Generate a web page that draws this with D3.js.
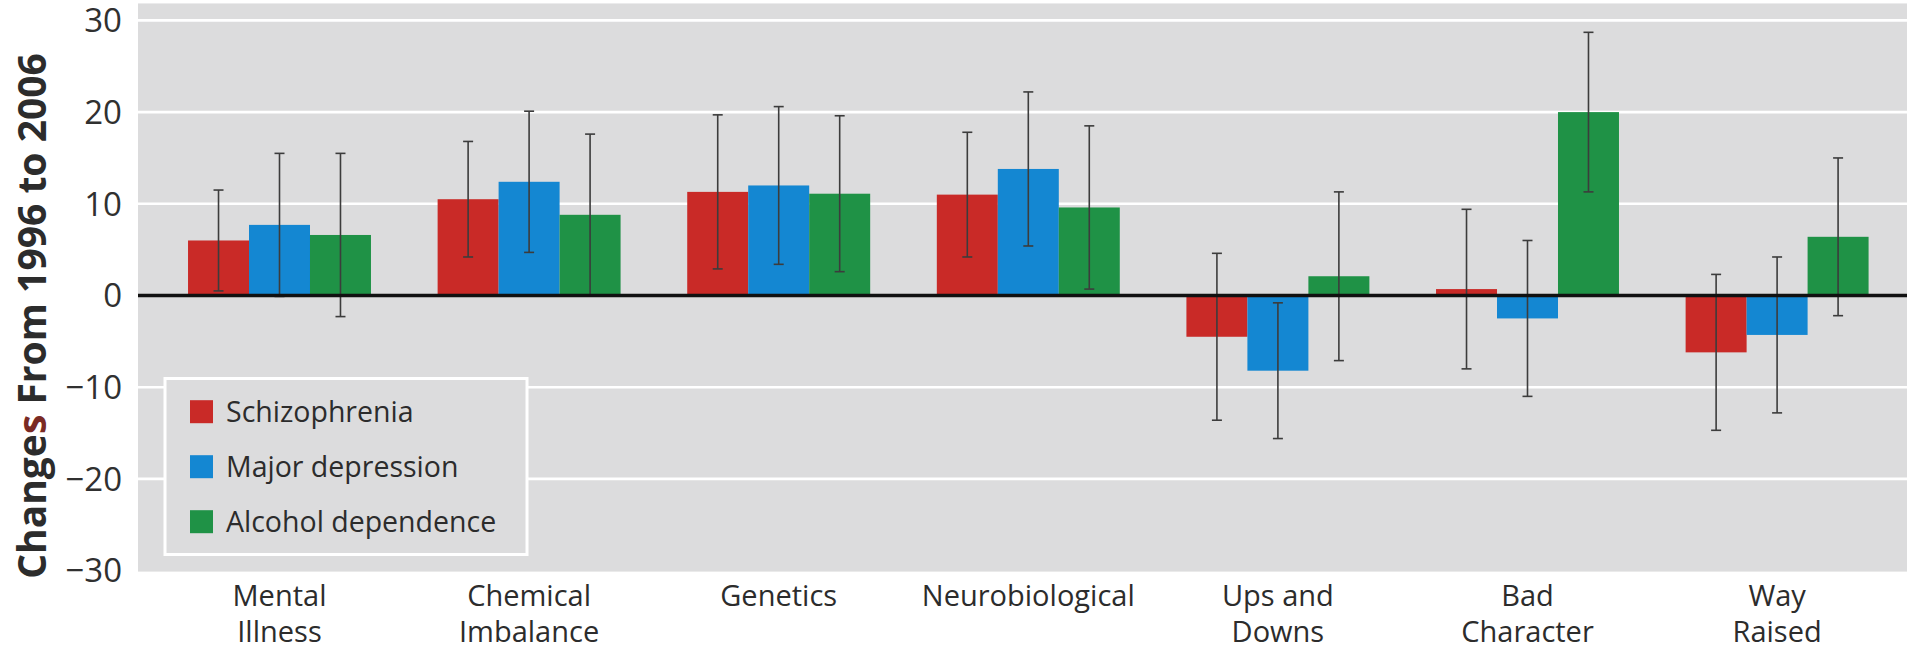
<!DOCTYPE html>
<html>
<head>
<meta charset="utf-8">
<script src="https://cdn.jsdelivr.net/npm/d3@7"></script>
<style>
  html, body { margin: 0; padding: 0; background: #ffffff; }
  svg { display: block; font-family: "Open Sans", "Noto Sans", sans-serif; }
</style>
</head>
<body>
<svg id="chart" width="1907" height="650"></svg>
<script>
// Attribution categories (multi-line labels)
const categories = [
  ["Mental", "Illness"],
  ["Chemical", "Imbalance"],
  ["Genetics"],
  ["Neurobiological"],
  ["Ups and", "Downs"],
  ["Bad", "Character"],
  ["Way", "Raised"]
];

const seriesNames = ["Schizophrenia", "Major depression", "Alcohol dependence"];
const seriesColors = ["#c92a27", "#1487d2", "#1f9246"];

// Change in endorsement, 1996 to 2006 (percentage points) and error half-widths
const schizophrenia    = [6.0, 10.5, 11.3, 11.0, -4.5,  0.7, -6.2];
const schizophreniaErr = [5.5,  6.3,  8.4,  6.8,  9.1,  8.7,  8.5];
const depression       = [7.7, 12.4, 12.0, 13.8, -8.2, -2.5, -4.3];
const depressionErr    = [7.8,  7.7,  8.6,  8.4,  7.4,  8.5,  8.5];
const alcohol          = [6.6,  8.8, 11.1,  9.6,  2.1, 20.0,  6.4];
const alcoholErr       = [8.9,  8.8,  8.5,  8.9,  9.2,  8.7,  8.6];

const yTicks = [-30, -20, -10, 0, 10, 20, 30];
const yTitle = "Changes From 1996 to 2006";

const values = [schizophrenia, depression, alcohol];
const errors = [schizophreniaErr, depressionErr, alcoholErr];

const svg = d3.select("#chart");
const W = 1907;

const plotLeft = 138, plotRight = W;
const y = d3.scaleLinear().domain([-30, 30]).range([570.6, 20.4]);
const yTopValue = 31.85;

const catKeys = categories.map(c => c.join(" "));
const x = d3.scaleBand()
  .domain(catKeys)
  .range([154.7, 1901.9])
  .paddingInner(0.267)
  .paddingOuter(0.1335);

const xs = d3.scaleBand()
  .domain(d3.range(seriesNames.length))
  .range([0, x.bandwidth()]);

// Plot background
svg.append("rect")
  .attr("x", plotLeft)
  .attr("y", y(yTopValue))
  .attr("width", plotRight - plotLeft)
  .attr("height", y(-30) - y(yTopValue) + 1)
  .attr("fill", "#dcdcdd");

// Horizontal gridlines
svg.append("g")
  .selectAll("line")
  .data(yTicks.filter(t => t !== 0 && t !== -30))
  .join("line")
  .attr("x1", plotLeft).attr("x2", plotRight)
  .attr("y1", d => y(d)).attr("y2", d => y(d))
  .attr("stroke", "#ffffff")
  .attr("stroke-width", 2.6);

// Y tick labels
svg.append("g")
  .selectAll("text")
  .data(yTicks)
  .join("text")
  .attr("x", 122)
  .attr("y", d => y(d))
  .attr("dy", "0.36em")
  .attr("text-anchor", "end")
  .attr("font-size", 33)
  .attr("fill", "#303030")
  .text(d => d < 0 ? "\u2212" + Math.abs(d) : String(d));

// Y axis title
const title = svg.append("text")
  .attr("transform", `translate(46,${316}) rotate(-90)`)
  .attr("text-anchor", "middle")
  .attr("font-size", 39)
  .attr("font-weight", 700)
  .attr("fill", "#2c2c2c");
title.append("tspan").text("Change");
title.append("tspan").attr("fill", "#7a2a24").text("s");
title.append("tspan").text(yTitle.slice(7));

// Bars
const groups = svg.append("g")
  .selectAll("g")
  .data(catKeys)
  .join("g")
  .attr("transform", d => `translate(${x(d)},0)`);

groups.each(function(cat, ci) {
  const g = d3.select(this);
  seriesNames.forEach((s, si) => {
    const v = values[si][ci];
    g.append("rect")
      .attr("x", xs(si))
      .attr("y", y(Math.max(0, v)))
      .attr("width", xs.bandwidth())
      .attr("height", Math.abs(y(v) - y(0)))
      .attr("fill", seriesColors[si]);
  });
});

// Zero line
svg.append("line")
  .attr("x1", plotLeft).attr("x2", plotRight)
  .attr("y1", y(0)).attr("y2", y(0))
  .attr("stroke", "#111111")
  .attr("stroke-width", 3.4);

// Error bars
groups.each(function(cat, ci) {
  const g = d3.select(this);
  seriesNames.forEach((s, si) => {
    const v = values[si][ci], e = errors[si][ci];
    const cx = xs(si) + xs.bandwidth() / 2;
    const eb = g.append("g")
      .attr("stroke", "#3c3c3c")
      .attr("stroke-width", 1.6);
    eb.append("line")
      .attr("x1", cx).attr("x2", cx)
      .attr("y1", y(v + e)).attr("y2", y(v - e));
    [v + e, v - e].forEach(t => {
      eb.append("line")
        .attr("x1", cx - 5).attr("x2", cx + 5)
        .attr("y1", y(t)).attr("y2", y(t));
    });
  });
});

// X category labels
const xl = svg.append("g")
  .selectAll("text")
  .data(categories)
  .join("text")
  .attr("x", (d, i) => x(catKeys[i]) + x.bandwidth() / 2)
  .attr("y", 606)
  .attr("text-anchor", "middle")
  .attr("font-size", 29)
  .attr("fill", "#2c2c2c");
xl.selectAll("tspan")
  .data(d => d)
  .join("tspan")
  .attr("x", function() { return d3.select(this.parentNode).attr("x"); })
  .attr("dy", (d, i) => i === 0 ? 0 : 36)
  .text(d => d);

// Legend
const legend = svg.append("g");
legend.append("rect")
  .attr("x", 165).attr("y", 378.5)
  .attr("width", 362).attr("height", 176)
  .attr("fill", "#dcdcdd")
  .attr("stroke", "#ffffff")
  .attr("stroke-width", 3);
seriesNames.forEach((s, i) => {
  const cy = 411.7 + i * 55;
  legend.append("rect")
    .attr("x", 190).attr("y", cy - 11.5)
    .attr("width", 23).attr("height", 23)
    .attr("fill", seriesColors[i]);
  legend.append("text")
    .attr("x", 226).attr("y", cy)
    .attr("dy", "0.36em")
    .attr("font-size", 28.5)
    .attr("fill", "#2c2c2c")
    .text(s);
});
</script>
</body>
</html>
